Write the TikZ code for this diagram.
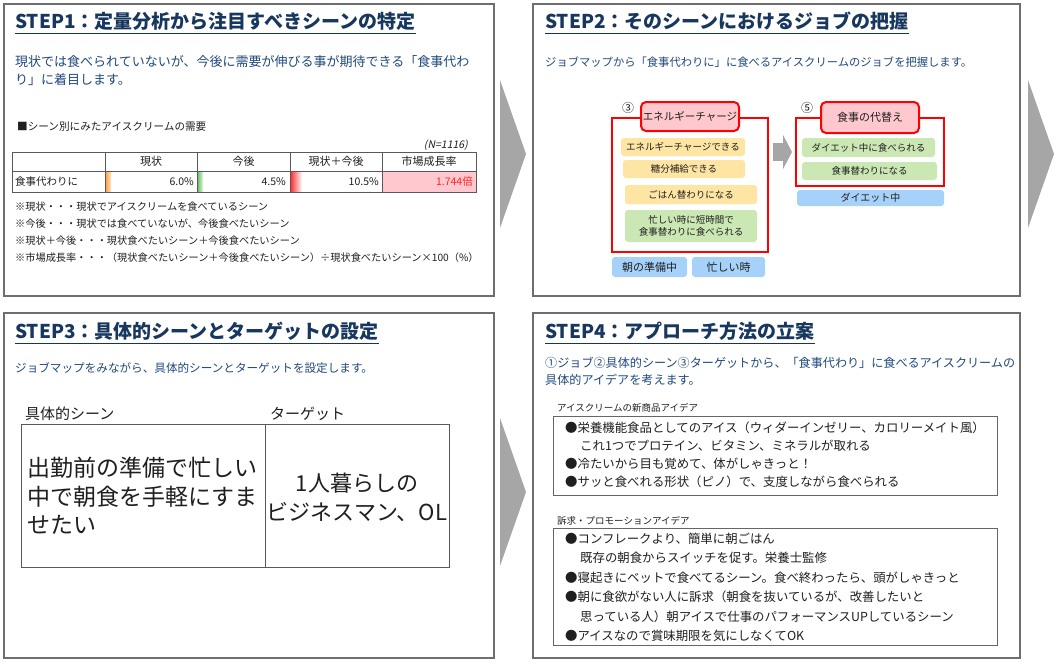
\documentclass[tikz,border=0pt]{standalone}
\usepackage{fontspec}
\setmainfont{Noto Sans CJK JP}
\newfontfamily\slantjp{Noto Sans CJK JP}[FakeSlant=0.2]
\usepackage{tikz}
\usetikzlibrary{arrows.meta}
\definecolor{stepnavy}{RGB}{23,55,94}
\definecolor{leadblue}{RGB}{31,73,125}
\definecolor{framegray}{RGB}{110,110,110}
\definecolor{jobred}{RGB}{255,0,0}
\definecolor{jobpink}{RGB}{255,199,206}
\definecolor{joborange}{RGB}{255,229,163}
\definecolor{jobgreen}{RGB}{203,232,180}
\definecolor{jobblue}{RGB}{166,210,250}
\definecolor{arrowgray}{RGB}{166,166,166}
\definecolor{ratered}{RGB}{255,40,40}
\colorlet{inkgray}{black!88}
\newcommand{\jpsize}[1]{\fontsize{#1}{#1}\selectfont}

\begin{document}
\begin{tikzpicture}[x=1pt,y=-1pt,every node/.style={inner sep=0pt,text=inkgray},
  steptitle/.style={anchor=west,text=stepnavy,font=\bfseries\jpsize{19}},
  titleline/.style={color=stepnavy!90!blue,line width=1.6pt},
  lead/.style={anchor=west,text=leadblue,font=\jpsize{13}},
  remark/.style={anchor=west,font=\jpsize{10.2}},
  panel/.style={draw=framegray,line width=1.3pt},
  tablerule/.style={draw=black!65,line width=.8pt},
  ideabox/.style={draw=black!60,line width=1pt},
  jobframe/.style={draw=jobred,line width=2pt},
  jobhead/.style={draw=jobred,line width=2pt,fill=jobpink,rounded corners=5pt,font=\jpsize{10.5}},
  jobitem/.style={fill=#1,rounded corners=3pt,font=\jpsize{9.5},align=center},
  idea/.style={anchor=west,font=\jpsize{12.4}}]
  \fill[white] (0,0) rectangle (1057,662);
  \useasboundingbox (0,0) rectangle (1057,662);
  % panels and step arrows
  \draw[panel] (4,4) rectangle (494,296); \draw[panel] (533,4) rectangle (1020,296);
  \draw[panel] (4,313) rectangle (494,658); \draw[panel] (533,313) rectangle (1020,658);
  \foreach \x/\y in {500/154,500/492,1028/154}{\fill[arrowgray] (\x,\y-74) -- (\x+26,\y) -- (\x,\y+74) -- cycle;}

  % step titles, underlined
  \foreach \x/\y/\t in {15/21/{STEP1：定量分析から注目すべきシーンの特定},545/21/{STEP2：そのシーンにおけるジョブの把握},
      15/331/{STEP3：具体的シーンとターゲットの設定},545/331/{STEP4：アプローチ方法の立案}}{
    \node[steptitle] (title) at (\x,\y) {\t};
    \draw[titleline] (title.west |- 0,\y+12.5) -- (title.east |- 0,\y+12.5);}

  % STEP1
  \node[lead] (l1a) at (15,62) {現状では食べられていないが、今後に需要が伸びる事が期待できる「食事代わ};
  \node[lead] (l1b) at (15,80) {り」に着目します。};
  \node[anchor=west,font=\jpsize{10.6}] (dem) at (17,127) {■シーン別にみたアイスクリームの需要};
  \node[anchor=east,font=\slantjp\jpsize{10.5}] (nn) at (468,145) {(N=1116)};
  \fill[jobpink] (382,171) rectangle (476,192);
  \shade[left color=orange!80,right color=orange!20] (105,172) rectangle (111,191);
  \shade[left color=green!50!black!60,right color=green!15] (197,172) rectangle (203,191);
  \shade[left color=red!85,right color=white] (290,172) rectangle (302,191);
  \draw[tablerule] (12,152) rectangle (476,192) (12,171) -- (476,171);
  \foreach \x in {105,197,290,382}{\draw[tablerule] (\x,152) -- (\x,192);}
  \foreach \x/\h [count=\i] in {151/現状,243.5/今後,336/現状＋今後,429/市場成長率}{\node[font=\jpsize{11}] (hd\i) at (\x,161.5) {\h};}
  \node[anchor=west,font=\jpsize{10.5}] (rw) at (15,181.5) {食事代わりに};
  \foreach \x/\v [count=\i] in {194/6.0\%,286/4.5\%,379/10.5\%}{\node[anchor=east,font=\jpsize{10.5}] (v\i) at (\x,181.5) {\v};}
  \node[anchor=east,font=\jpsize{10.5},text=ratered] (rate) at (473,181.5) {1.744倍};
  \foreach \y/\t [count=\i] in {207/{※現状・・・現状でアイスクリームを食べているシーン},
      224/{※今後・・・現状では食べていないが、今後食べたいシーン},
      241/{※現状＋今後・・・現状食べたいシーン＋今後食べたいシーン},
      258/{※市場成長率・・・（現状食べたいシーン＋今後食べたいシーン）÷現状食べたいシーン×100（\%）}}{\node[remark] (nt\i) at (15,\y) {\t};}

  % STEP2
  \node[lead,font=\jpsize{11.3}] (l2) at (545,62) {ジョブマップから「食事代わりに」に食べるアイスクリームのジョブを把握します。};
  \node[jobframe,minimum width=156pt,minimum height=134pt] (jobA) at (690,185) {};
  \node[jobframe,minimum width=148pt,minimum height=68pt] (jobB) at (870,152) {};
  \node[jobhead,minimum width=98pt,minimum height=29pt] (headA) at (690,116.5) {エネルギーチャージ};
  \node[jobhead,minimum width=98pt,minimum height=31pt,font=\jpsize{11}] (headB) at (870,117.5) {食事の代替え};
  \node[font=\jpsize{12}] (numA) at (628,108) {③};
  \node[font=\jpsize{12}] (numB) at (807,108) {⑤};
  \node[jobitem=joborange,minimum width=124pt,minimum height=18pt] (a1) at (683,147) {エネルギーチャージできる};
  \node[jobitem=joborange,minimum width=122pt,minimum height=18pt] (a2) at (684,169) {糖分補給できる};
  \node[jobitem=joborange,minimum width=132pt,minimum height=19pt] (a3) at (691,194.5) {ごはん替わりになる};
  \node[jobitem=jobgreen,minimum width=132pt,minimum height=32pt,font=\fontsize{9.5}{11.5}\selectfont] (a4) at (691,226) {忙しい時に短時間で\\食事替わりに食べられる};
  \node[jobitem=jobgreen,minimum width=133pt,minimum height=19pt] (b1) at (868.5,147.5) {ダイエット中に食べられる};
  \node[jobitem=jobgreen,minimum width=135pt,minimum height=18pt] (b2) at (869.5,171) {食事替わりになる};
  \node[jobitem=jobblue,minimum width=75pt,minimum height=20pt,font=\jpsize{11}] (tagA1) at (649.5,267) {朝の準備中};
  \node[jobitem=jobblue,minimum width=73pt,minimum height=20pt,font=\jpsize{11}] (tagA2) at (728.5,267) {忙しい時};
  \node[jobitem=jobblue,minimum width=147pt,minimum height=16pt,font=\jpsize{10}] (tagB) at (870.5,198) {ダイエット中};
  \draw[arrowgray,line width=18pt,-{Triangle[length=9pt,width=34pt]},shorten <=4pt,shorten >=3pt] (jobA.east |- jobB.west) -- (jobB.west);

  % STEP3
  \node[lead,font=\jpsize{11.6}] (l3) at (15,368) {ジョブマップをみながら、具体的シーンとターゲットを設定します。};
  \node[anchor=west,font=\jpsize{15}] (sc) at (25,414) {具体的シーン};
  \node[anchor=west,font=\jpsize{15}] (tg) at (270,414) {ターゲット};
  \draw[tablerule] (21,424) rectangle (449,567) (265,424) -- (265,567);
  \foreach \y/\t [count=\i] in {468/出勤前の準備で忙しい,497/中で朝食を手軽にすま,525/せたい}{\node[anchor=west,font=\jpsize{23}] (sl\i) at (27,\y) {\t};}
  \foreach \y/\t [count=\i] in {483/1人暮らしの,512/ビジネスマン、OL}{\node[font=\jpsize{22}] (tl\i) at (357,\y) {\t};}

  % STEP4
  \node[lead,font=\jpsize{12.1}] (l4a) at (545,363) {①ジョブ②具体的シーン③ターゲットから、「食事代わり」に食べるアイスクリームの};
  \node[lead,font=\jpsize{12.1}] (l4b) at (545,380) {具体的アイデアを考えます。};
  \node[anchor=west,font=\jpsize{9.5}] (c1) at (557,408) {アイスクリームの新商品アイデア};
  \draw[ideabox] (553,416) rectangle (997,495);
  \foreach \x/\y/\t [count=\i] in {565/428/{●栄養機能食品としてのアイス（ウィダーインゼリー、カロリーメイト風）},
      580/446/{これ1つでプロテイン、ビタミン、ミネラルが取れる},
      565/464/{●冷たいから目も覚めて、体がしゃきっと！},
      565/482/{●サッと食べれる形状（ピノ）で、支度しながら食べられる}}{\node[idea] (ia\i) at (\x,\y) {\t};}
  \node[anchor=west,font=\jpsize{9.5}] (c2) at (557,521) {訴求・プロモーションアイデア};
  \draw[ideabox] (553,528) rectangle (997,645);
  \foreach \x/\y/\t [count=\i] in {565/539/{●コンフレークより、簡単に朝ごはん},
      580/558/{既存の朝食からスイッチを促す。栄養士監修},
      565/578/{●寝起きにベットで食べてるシーン。食べ終わったら、頭がしゃきっと},
      565/597/{●朝に食欲がない人に訴求（朝食を抜いているが、改善したいと},
      580/617/{思っている人）朝アイスで仕事のパフォーマンスUPしているシーン},
      565/636/{●アイスなので賞味期限を気にしなくてOK}}{\node[idea] (ib\i) at (\x,\y) {\t};}
\end{tikzpicture}
\end{document}
